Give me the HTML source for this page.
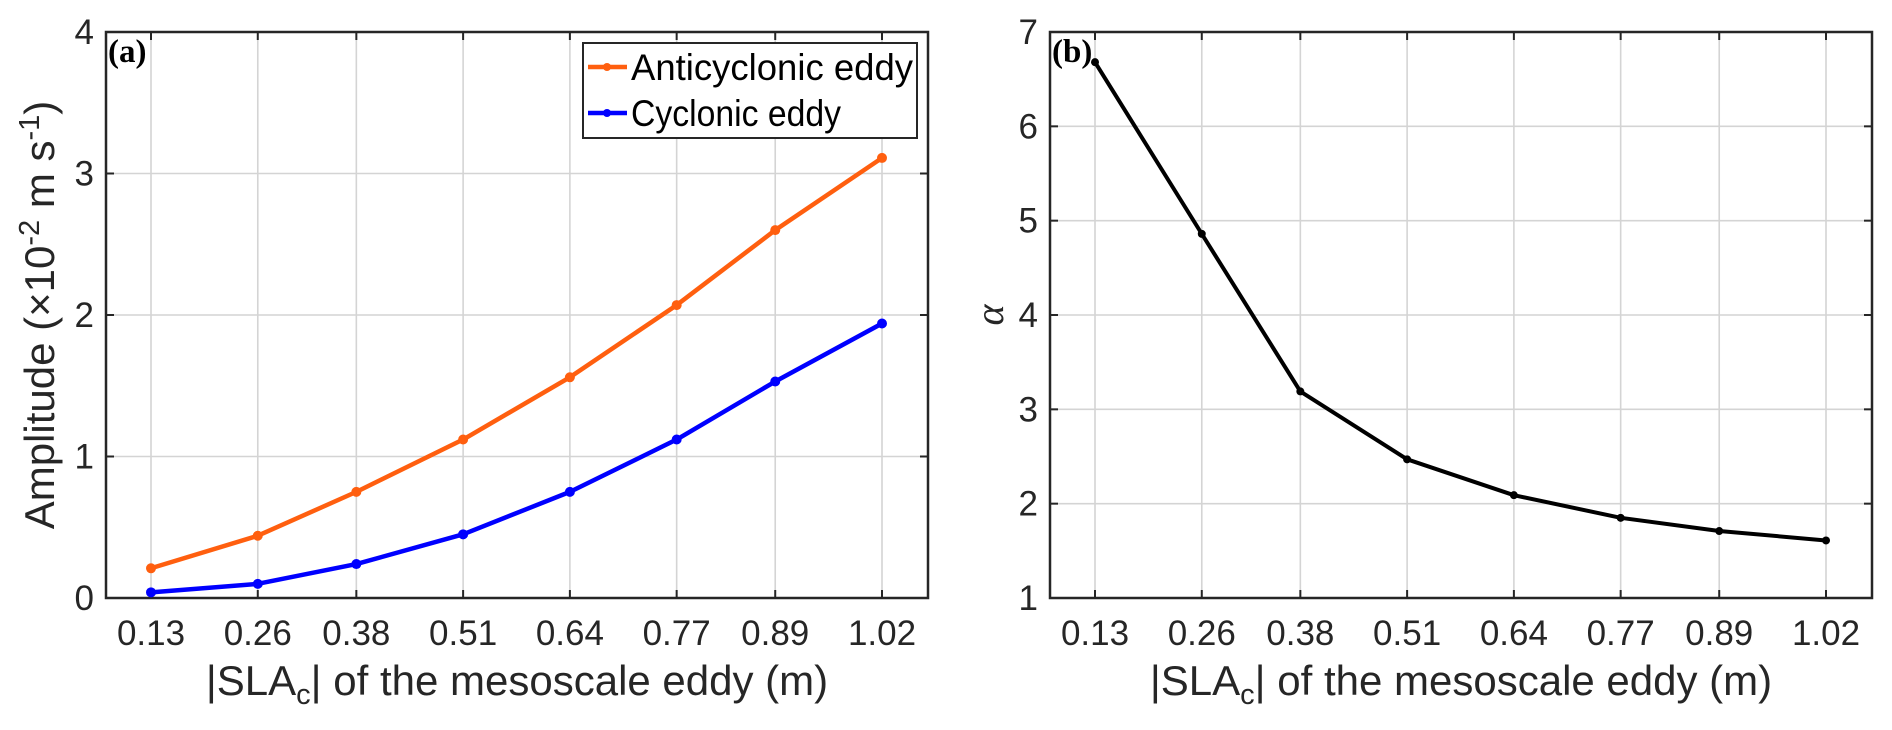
<!DOCTYPE html>
<html><head><meta charset="utf-8"><style>
html,body{margin:0;padding:0;background:#fff;}
svg{display:block;font-family:"Liberation Sans",Arial,sans-serif;}
</style></head><body>
<svg id="fig" width="1892" height="730" viewBox="0 0 1892 730" xmlns="http://www.w3.org/2000/svg">
<g id="pa"></g>
<g id="pb"></g>
</svg>
<script>
const xCats = [0.13, 0.26, 0.38, 0.51, 0.64, 0.77, 0.89, 1.02];
const xTickLabels = ["0.13","0.26","0.38","0.51","0.64","0.77","0.89","1.02"];
const anticyclonic = [0.21, 0.44, 0.75, 1.12, 1.56, 2.07, 2.60, 3.11];
const cyclonic = [0.04, 0.10, 0.24, 0.45, 0.75, 1.12, 1.53, 1.94];
const alphaVals = [6.68, 4.86, 3.19, 2.47, 2.09, 1.85, 1.71, 1.61];
const yTicksA = [0, 1, 2, 3, 4];
const yTicksB = [1, 2, 3, 4, 5, 6, 7];

const NS = "http://www.w3.org/2000/svg";
function mk(parent, tag, attrs, text){
  const e = document.createElementNS(NS, tag);
  for (const k in attrs) e.setAttribute(k, attrs[k]);
  if (text !== undefined) e.textContent = text;
  parent.appendChild(e);
  return e;
}
const TOP = 32, BOT = 598;
function makeX(left){
  return v => left + 45 + (v - 0.13) / 0.89 * 731;
}
function makeY(ymin, ymax){
  return v => BOT - (v - ymin) / (ymax - ymin) * (BOT - TOP);
}
function panel(g, left, ymin, ymax, yTicks, letter){
  const right = left + 822;
  const X = makeX(left), Y = makeY(ymin, ymax);
  xCats.forEach((c,i)=>{
    const l = mk(g,'line',{x1:X(c),x2:X(c),y1:TOP,y2:BOT,stroke:'#d4d4d4','stroke-width':1.6});
    
    
  });
  yTicks.forEach(t=>{
    const l = mk(g,'line',{x1:left,x2:right,y1:Y(t),y2:Y(t),stroke:'#d4d4d4','stroke-width':1.6});
    
    
  });
  xCats.forEach((c,i)=>{
    const t1 = mk(g,'line',{x1:X(c),x2:X(c),y1:BOT,y2:BOT-8,stroke:'#262626','stroke-width':2});
    
    
    const t2 = mk(g,'line',{x1:X(c),x2:X(c),y1:TOP,y2:TOP+8,stroke:'#262626','stroke-width':2});
    
    
    const lb = mk(g,'text',{x:X(c),y:645,'text-anchor':'middle','font-size':35,fill:'#262626'},xTickLabels[i]);
    
    
  });
  yTicks.forEach(t=>{
    const t1 = mk(g,'line',{x1:left,x2:left+8,y1:Y(t),y2:Y(t),stroke:'#262626','stroke-width':2});
    
    
    const t2 = mk(g,'line',{x1:right,x2:right-8,y1:Y(t),y2:Y(t),stroke:'#262626','stroke-width':2});
    
    
    const lb = mk(g,'text',{x:left-12,y:Y(t)+12,'text-anchor':'end','font-size':35,fill:'#262626'},String(t));
    
    
  });
  const box = mk(g,'rect',{x:left,y:TOP,width:822,height:BOT-TOP,fill:'none',stroke:'#262626','stroke-width':2.5});
  
  
  const pl = mk(g,'text',{x:left+2,y:TOP+30,'font-size':33,'font-weight':'bold','font-family':'"Liberation Serif",serif',fill:'#000'},letter);
  
  
  const xl = mk(g,'text',{x:left+411,y:695,'text-anchor':'middle','font-size':42,fill:'#262626'});
  
  
  mk(xl,'tspan',{},'|SLA');
  mk(xl,'tspan',{'font-size':29,dy:9},'c');
  mk(xl,'tspan',{dy:-9},'| of the mesoscale eddy (m)');
  return {X,Y};
}
function series(g, X, Y, vals, color, w, r, name){
  const pts = vals.map((v,i)=>X(xCats[i])+','+Y(v)).join(' ');
  const pl = mk(g,'polyline',{points:pts,fill:'none',stroke:color,'stroke-width':w,'stroke-linejoin':'round'});
  
  
  vals.forEach((v,i)=>{
    const c = mk(g,'circle',{cx:X(xCats[i]),cy:Y(v),r:r,fill:color});
    
    
  });
}
const ga = document.getElementById('pa'), gb = document.getElementById('pb');
const A = panel(ga, 106, 0, 4, yTicksA, '(a)');
series(ga, A.X, A.Y, anticyclonic, '#ff5f0f', 4.5, 5, 'anticyclonic');
series(ga, A.X, A.Y, cyclonic, '#0000ff', 4.5, 5, 'cyclonic');
const B = panel(gb, 1050, 1, 7, yTicksB, '(b)');
series(gb, B.X, B.Y, alphaVals, '#000', 4, 4, 'alpha');

const yla = mk(ga,'text',{transform:'translate(54,315) rotate(-90)','text-anchor':'middle','font-size':42,fill:'#262626'});


mk(yla,'tspan',{},'Amplitude (×10');
mk(yla,'tspan',{'font-size':29,dy:-15},'-2');
mk(yla,'tspan',{dy:15},' m s');
mk(yla,'tspan',{'font-size':29,dy:-15},'-1');
mk(yla,'tspan',{dy:15},')');
const ylb = mk(gb,'text',{transform:'translate(1003,315) rotate(-90)','text-anchor':'middle','font-size':40,'font-style':'italic','font-family':'"Liberation Serif",serif',fill:'#262626'},'α');



const lg = mk(ga,'g',{});


const lr = mk(lg,'rect',{x:583,y:43,width:334,height:95,fill:'#fff',stroke:'#262626','stroke-width':2});


[['Anticyclonic eddy','#ff5f0f',67],['Cyclonic eddy','#0000ff',113]].forEach(([t,c,y])=>{
  const e = mk(lg,'g',{});
  
  
  mk(e,'line',{x1:588,x2:627,y1:y,y2:y,stroke:c,'stroke-width':4.5});
  mk(e,'circle',{cx:607,cy:y,r:4,fill:c});
  mk(e,'text',{x:631,y:y+13,'font-size':37,fill:'#000',textLength:(t.length>13?282:210),lengthAdjust:'spacingAndGlyphs'},t);
});
</script>
</body></html>
